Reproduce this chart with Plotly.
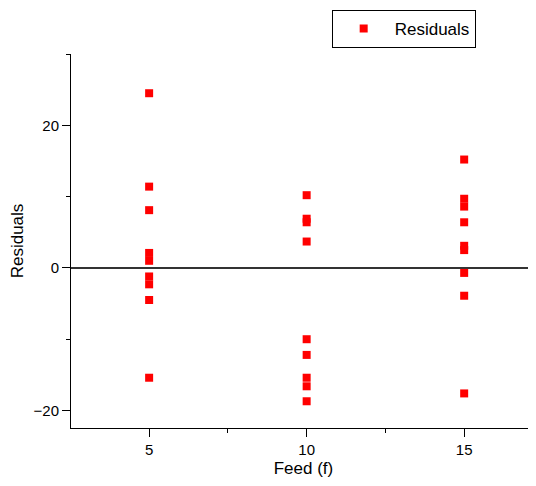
import plotly.graph_objects as go

feed_5 = [24.5, 11.4, 8.1, 2.1, 1.0, -1.2, -2.3, -4.5, -15.4]
feed_10 = [10.2, 6.9, 6.4, 3.7, -10.0, -12.2, -15.4, -16.6, -18.7]
feed_15 = [15.2, 9.7, 8.6, 6.4, 3.1, 2.5, -0.7, -3.9, -17.6]

x_vals = [5] * len(feed_5) + [10] * len(feed_10) + [15] * len(feed_15)
y_vals = feed_5 + feed_10 + feed_15

FONT = "Liberation Sans, Arial, sans-serif"

fig = go.Figure()
fig.add_trace(go.Scatter(
    x=x_vals, y=y_vals, mode="markers", name="Residuals",
    marker=dict(symbol="square", size=8, color="#ff0000", line=dict(width=0)),
    showlegend=True,
))

# page body has an 8px default margin, so the figure is sized/offset to compensate
fig.update_layout(
    width=528, height=470,
    margin=dict(l=63, r=0, t=46, b=50, autoexpand=False),
    paper_bgcolor="white", plot_bgcolor="white",
    font=dict(family=FONT, size=15, color="#000000"),
    showlegend=True,
    legend=dict(
        x=0.5606, y=1.118, xanchor="left", yanchor="top",
        bordercolor="#000000", borderwidth=1, bgcolor="white",
        font=dict(family=FONT, size=17, color="#000000"),
        itemwidth=52,
    ),
    xaxis=dict(
        range=[2.52, 17.28], showgrid=False, zeroline=False, automargin=False,
        showline=True, linecolor="#000000", linewidth=1,
        ticks="outside", ticklen=8, tickcolor="#000000", tickwidth=1,
        tick0=0, dtick=5,
        minor=dict(ticks="outside", ticklen=4, dtick=2.5, tick0=0, tickcolor="#000000", showgrid=False),
        title=dict(text="Feed (f)", font=dict(family=FONT, size=17), standoff=9),
        tickfont=dict(family=FONT, size=15),
    ),
    yaxis=dict(
        range=[-22.45, 30], showgrid=False, automargin=False,
        zeroline=True, zerolinecolor="#333333", zerolinewidth=1.5,
        showline=True, linecolor="#000000", linewidth=1,
        ticks="outside", ticklen=8, tickcolor="#000000", tickwidth=1,
        tick0=0, dtick=20,
        minor=dict(ticks="outside", ticklen=4, dtick=10, tick0=0, tickcolor="#000000", showgrid=False),
        title=dict(text="Residuals", font=dict(family=FONT, size=17), standoff=6),
        tickfont=dict(family=FONT, size=15),
    ),
)

fig.write_html("out.html")
